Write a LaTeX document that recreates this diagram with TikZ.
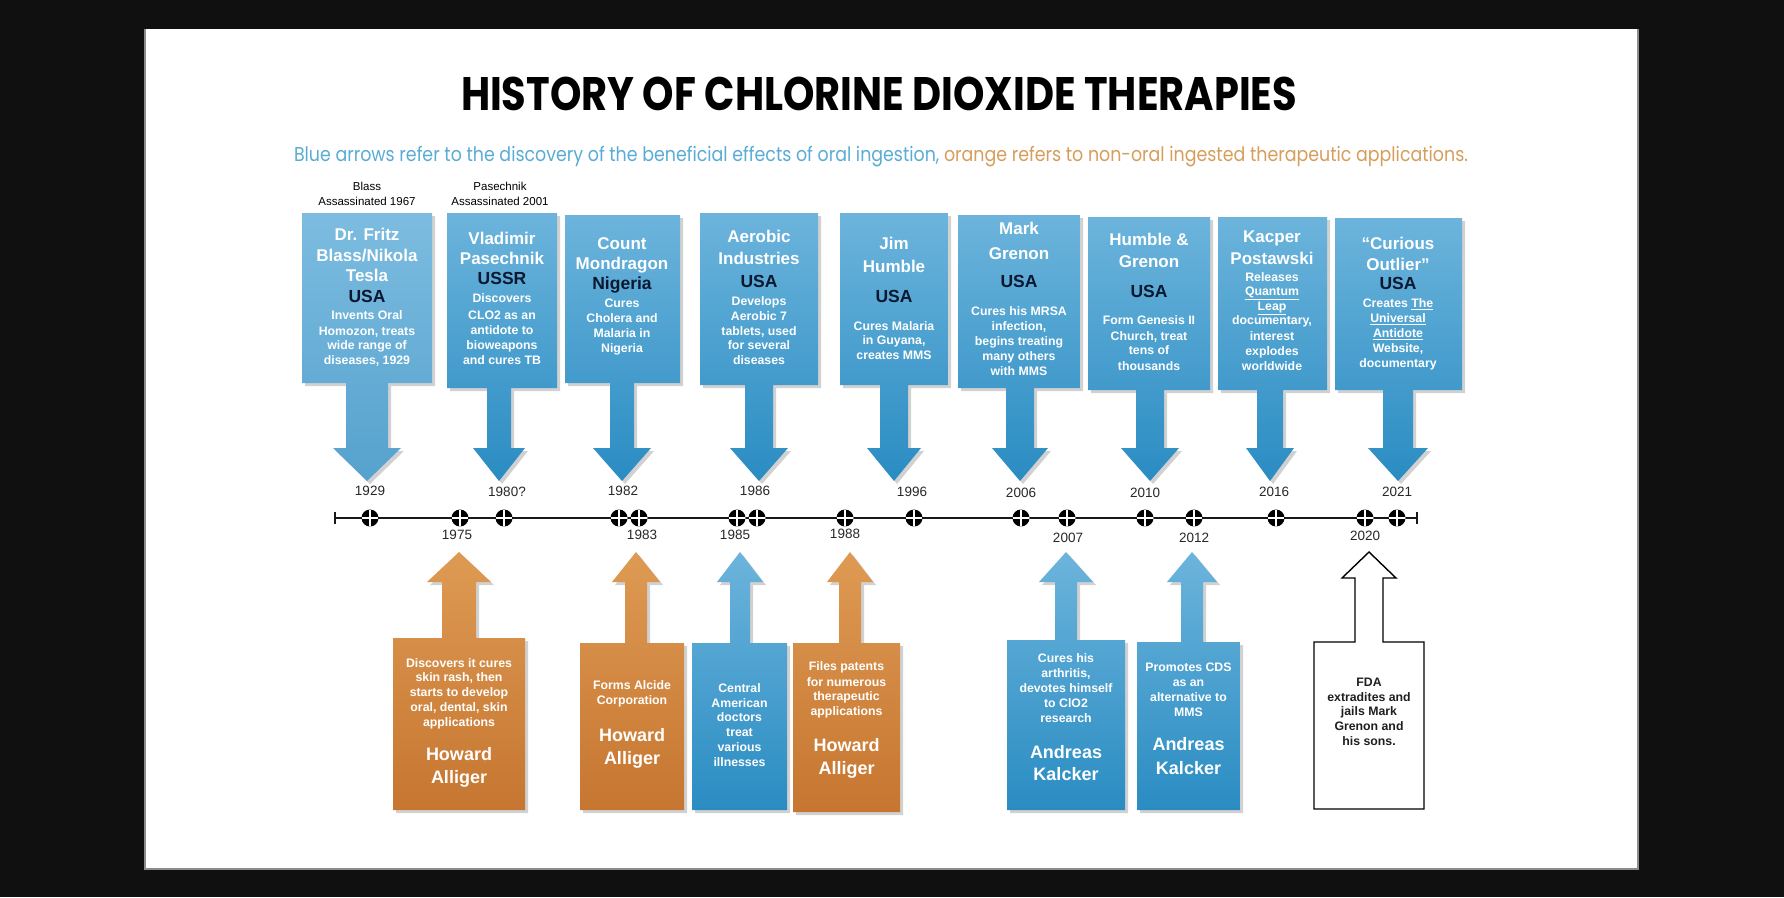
\documentclass[tikz,border=0pt]{standalone}
\usepackage{fontspec}
\setmainfont{Liberation Sans}
\newfontfamily\poppins{Poppins}
\usepackage{graphicx}
\definecolor{bgc}{RGB}{16,16,16}
\definecolor{bluetop}{RGB}{108,180,220}
\definecolor{bluebot}{RGB}{42,140,194}
\definecolor{lbluetop}{RGB}{125,188,224}
\definecolor{lbluebot}{RGB}{85,162,206}
\definecolor{orgtop}{RGB}{222,154,84}
\definecolor{orgbot}{RGB}{198,118,48}
\definecolor{navy}{RGB}{10,24,48}
\definecolor{subblue}{RGB}{90,172,212}
\definecolor{suborange}{RGB}{214,158,92}
\definecolor{yearc}{RGB}{40,40,40}
\newcommand\fname{\fontsize{17}{20}\selectfont\bfseries}
\newcommand\fnamelow{\fontsize{18}{20}\selectfont\bfseries}
\newcommand\fcty{\fontsize{17.5}{20}\selectfont\bfseries}
\newcommand\fbody{\fontsize{12.3}{15}\selectfont\bfseries}
\newcommand\fyear{\fontsize{13.5}{15}\selectfont}
\newcommand\fnote{\fontsize{11.5}{13}\selectfont}
\tikzset{
  blueshade/.style={top color=bluetop, bottom color=bluebot},
  lblueshade/.style={top color=lbluetop, bottom color=lbluebot},
  orgshade/.style={top color=orgtop, bottom color=orgbot},
  shadowc/.style={fill=black, opacity=0.18},
  nm/.style={font=\fname, text=white, inner sep=0pt, anchor=mid},
  nml/.style={font=\fnamelow, text=white, inner sep=0pt, anchor=mid},
  cty/.style={font=\fcty, text=navy, inner sep=0pt, anchor=mid},
  bd/.style={font=\fbody, text=white, inner sep=0pt, anchor=mid},
  bdk/.style={font=\fbody, text=black!88, inner sep=0pt, anchor=mid},
  yr/.style={font=\fyear, text=yearc, inner sep=0pt, anchor=mid},
  note/.style={font=\fnote, text=black, inner sep=0pt, anchor=mid},
  tline/.style={line width=1.8pt, draw=black!90},
  marker/.style={circle, fill=black, minimum size=17pt, inner sep=0pt,
    path picture={\draw[white, line width=1.5pt]
      (path picture bounding box.north) -- (path picture bounding box.south)
      (path picture bounding box.west) -- (path picture bounding box.east);}}
}
% down callout: style, left, right, top, bottom, centre x, shaft half, head half
\newcommand\topcall[8]{%
  \def\cpath{(#2,#4) -- (#3,#4) -- (#3,#5) -- ({#6+#7},#5) -- ({#6+#7},448) -- ({#6+#8},448) -- (#6,481) -- ({#6-#8},448) -- ({#6-#7},448) -- ({#6-#7},#5) -- (#2,#5) -- cycle}%
  \begin{scope}[shift={(3,3)}]\fill[shadowc]\cpath;\end{scope}
  \shade[#1]\cpath;}
% up callout
\newcommand\botcall[8]{%
  \def\cpath{(#2,#5) -- (#3,#5) -- (#3,#4) -- ({#6+#7},#4) -- ({#6+#7},582) -- ({#6+#8},582) -- (#6,552) -- ({#6-#8},582) -- ({#6-#7},582) -- ({#6-#7},#4) -- (#2,#4) -- cycle}%
  \begin{scope}[shift={(3,3)}]\fill[shadowc]\cpath;\end{scope}
  \shade[#1]\cpath;}
% lines of text: x, style, list y/text, name prefix
\newcommand\txl[4]{\foreach \yy/\txt [count=\i] in {#3} {\node[#2] (#4\i) at (#1,\yy) {\txt};}}
\newcommand\mk[2]{\node[marker] (m#1) at (#2,518) {};}
\begin{document}
\begin{tikzpicture}[x=1pt,y=-1pt]
\useasboundingbox (0,0) rectangle (1784,897);
\fill[bgc] (0,0) rectangle (1784,897);
\fill[white] (145,29) rectangle (1638,869);
\draw[black!45, line width=1.2pt] (145,29) -- (145,869) -- (1638,869) -- (1638,29);

% title and legend
\node[anchor=base, inner sep=0pt] (title) at (879,110)
  {\resizebox{836pt}{\height}{\poppins\bfseries\fontsize{47}{47}\selectfont HISTORY OF CHLORINE DIOXIDE THERAPIES}};
\node[anchor=base, inner sep=0pt] (legend) at (881,161)
  {\resizebox{1174pt}{\height}{\poppins\fontsize{20}{20}\selectfont\textcolor{subblue}{Blue arrows refer to the discovery of the beneficial effects of oral ingestion,}\ \textcolor{suborange}{orange refers to non-oral ingested therapeutic applications.}}};

% notes above boxes
\node[note] (n1a) at (367,188) {Blass};
\node[note] (n1b) at (367,203) {Assassinated 1967};
\node[note] (n2a) at (500,188) {Pasechnik};
\node[note] (n2b) at (500,203) {Assassinated 2001};

% top callouts
\topcall{lblueshade}{302}{432}{213}{383}{367}{21}{34}
\topcall{blueshade}{447}{557}{213}{388}{499}{12}{26}
\topcall{blueshade}{565}{680}{215}{383}{622}{12}{29}
\topcall{blueshade}{700}{818}{213}{385}{759}{14}{29}
\topcall{blueshade}{840}{948}{213}{385}{894}{14}{27}
\topcall{blueshade}{958}{1080}{215}{388}{1020}{14}{28}
\topcall{blueshade}{1088}{1210}{217}{390}{1150}{14}{29}
\topcall{blueshade}{1218}{1327}{217}{390}{1270}{13}{24}
\topcall{blueshade}{1335}{1462}{218}{390}{1398}{15}{30}

% bottom callouts
\botcall{orgshade}{393}{525}{638}{810}{459}{17}{32}
\botcall{orgshade}{580}{684}{643}{810}{636}{11}{24}
\botcall{blueshade}{692}{787}{643}{810}{740}{10}{23}
\botcall{orgshade}{793}{900}{643}{812}{850}{11}{23}
\botcall{blueshade}{1007}{1125}{640}{810}{1066}{11}{27}
\botcall{blueshade}{1137}{1240}{642}{810}{1192}{11}{25}
\draw[fill=white, draw=black, line width=1.4pt] (1314,809) -- (1424,809) -- (1424,642) -- (1383,642) -- (1383,578) -- (1396,578) -- (1369,552) -- (1342,578) -- (1355,578) -- (1355,642) -- (1314,642) -- cycle;

% top box texts
\txl{367}{nm}{238/Dr. Fritz,259/{Blass/Nikola},279/Tesla}{t1n}
\node[cty] (t1c) at (367,300) {USA};
\txl{367}{bd}{317/Invents Oral,333/{Homozon, treats},347/wide range of,362/{diseases, 1929}}{t1b}

\txl{502}{nm}{242/Vladimir,262/Pasechnik}{t2n}
\node[cty] (t2c) at (502,282) {USSR};
\txl{502}{bd}{300/Discovers,317/CLO2 as an,332/antidote to,347/bioweapons,362/and cures TB}{t2b}

\txl{622}{nm}{247/Count,267/Mondragon}{t3n}
\node[cty] (t3c) at (622,287) {Nigeria};
\txl{622}{bd}{305/Cures,320/Cholera and,335/Malaria in,350/Nigeria}{t3b}

\txl{759}{nm}{240/Aerobic,262/Industries}{t4n}
\node[cty] (t4c) at (759,285) {USA};
\txl{759}{bd}{303/Develops,318/Aerobic 7,333/{tablets, used},347/for several,362/diseases}{t4b}

\txl{894}{nm}{247/Jim,270/Humble}{t5n}
\node[cty] (t5c) at (894,300) {USA};
\txl{894}{bd}{328/Cures Malaria,342/{in Guyana,},357/creates MMS}{t5b}

\txl{1019}{nm}{232/Mark,257/Grenon}{t6n}
\node[cty] (t6c) at (1019,285) {USA};
\txl{1019}{bd}{313/Cures his MRSA,328/{infection,},343/begins treating,358/many others,373/with MMS}{t6b}

\txl{1149}{nm}{243/Humble \&,265/Grenon}{t7n}
\node[cty] (t7c) at (1149,295) {USA};
\txl{1149}{bd}{322/Form Genesis II,338/{Church, treat},352/tens of,368/thousands}{t7b}

\txl{1272}{nm}{240/Kacper,262/Postawski}{t8n}
\txl{1272}{bd}{279/Releases,293/\underline{Quantum},308/\underline{Leap},322/{documentary,},338/interest,353/explodes,368/worldwide}{t8b}

\txl{1398}{nm}{247/“Curious,268/Outlier”}{t9n}
\node[cty] (t9c) at (1398,287) {USA};
\txl{1398}{bd}{305/Creates \underline{The},320/\underline{Universal},335/\underline{Antidote},350/{Website,},365/documentary}{t9b}

% bottom box texts
\txl{459}{bd}{665/Discovers it cures,679/{skin rash, then},694/starts to develop,709/{oral, dental, skin},724/applications}{bab}
\txl{459}{nml}{758/Howard,781/Alliger}{ban}
\txl{632}{bd}{687/Forms Alcide,702/Corporation}{bbb}
\txl{632}{nml}{739/Howard,762/Alliger}{bbn}
\txl{739.5}{bd}{690/Central,705/American,719/doctors,734/treat,749/various,764/illnesses}{bcb}
\txl{846.5}{bd}{668/Files patents,684/for numerous,698/therapeutic,713/applications}{bdb}
\txl{846.5}{nml}{749/Howard,772/Alliger}{bdn}
\txl{1066}{bd}{660/Cures his,675/{arthritis,},690/devotes himself,705/to ClO2,720/research}{beb}
\txl{1066}{nml}{756/Andreas,778/Kalcker}{ben}
\txl{1188.5}{bd}{669/Promotes CDS,684/as an,699/alternative to,714/MMS}{bfb}
\txl{1188.5}{nml}{748/Andreas,772/Kalcker}{bfn}
\txl{1369}{bdk}{684/FDA,699/extradites and,713/jails Mark,728/Grenon and,743/his sons.}{bgb}

% timeline
\coordinate (ts) at (335,518);
\coordinate (te) at (1417,518);
\draw[tline] (ts) -- (te);
\draw[tline] ([yshift=6pt]ts) -- ([yshift=-6pt]ts);
\draw[tline] ([yshift=6pt]te) -- ([yshift=-6pt]te);
\mk{1929}{370}\mk{1975}{460}\mk{1980}{504}\mk{1982}{619}\mk{1983}{639}
\mk{1985}{737}\mk{1986}{757}\mk{1988}{845}\mk{1996}{914}\mk{2006}{1021}
\mk{2007}{1067}\mk{2010}{1145}\mk{2012}{1194}\mk{2016}{1276}\mk{2020}{1365}\mk{2021}{1397}

% year labels
\txl{370}{yr}{493/1929}{y29}
\txl{507}{yr}{494/1980?}{y80}
\txl{623}{yr}{493/1982}{y82}
\txl{755}{yr}{493/1986}{y86}
\txl{912}{yr}{494/1996}{y96}
\txl{1021}{yr}{495/2006}{y06}
\txl{1145}{yr}{495/2010}{y10}
\txl{1274}{yr}{494/2016}{y16}
\txl{1397}{yr}{494/2021}{y21}
\txl{457}{yr}{537/1975}{y75}
\txl{642}{yr}{537/1983}{y83}
\txl{735}{yr}{537/1985}{y85}
\txl{845}{yr}{536/1988}{y88}
\txl{1068}{yr}{540/2007}{y07}
\txl{1194}{yr}{540/2012}{y12}
\txl{1365}{yr}{538/2020}{y20}
\end{tikzpicture}
\end{document}
